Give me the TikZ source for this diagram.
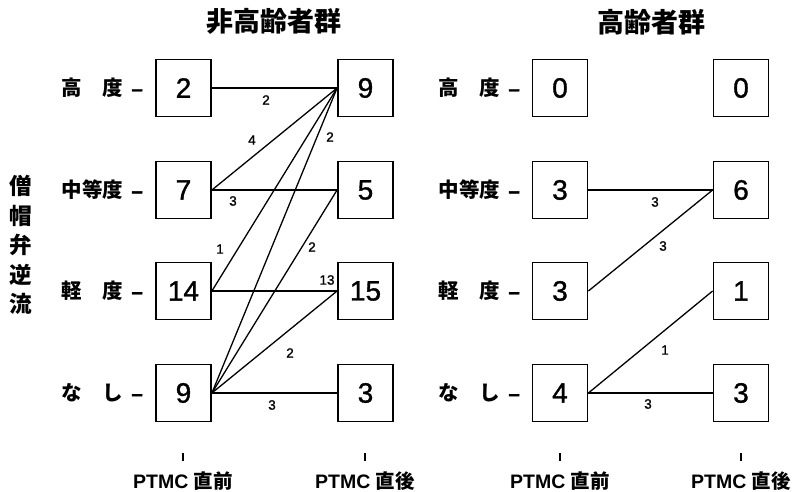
\documentclass[tikz,border=0pt]{standalone}
\usepackage{fontspec}
\setmainfont{Liberation Sans}
\newfontfamily\jp{Noto Sans CJK JP}
\newfontfamily\numf[FakeBold=1.2]{Liberation Sans}
\newfontfamily\dashf[FakeBold=2]{Liberation Sans Bold}
\begin{document}
\begin{tikzpicture}[x=1pt,y=-1pt,
  box/.style={draw, line width=1.8pt, minimum width=55pt, minimum height=57pt, inner sep=0pt, font=\numf\fontsize{28}{28}\selectfont},
  link/.style={line width=1.3pt},
  num/.style={font=\numf\fontsize{13.5}{13.5}\selectfont, inner sep=0pt},
  rowlab/.style={anchor=east, font=\jp\bfseries\fontsize{20.5}{20.5}\selectfont, inner sep=0pt},
  title/.style={font=\jp\bfseries\fontsize{27}{27}\selectfont, inner sep=0pt},
  axlab/.style={font=\bfseries\fontsize{19.5}{19.5}\selectfont, inner sep=0pt},
  tick/.style={line width=1.6pt}]
\useasboundingbox (0,0) rectangle (797,492);

% titles
\node[title] (t1) at (274,21) {非高齢者群};
\node[title] (t2) at (651,22) {高齢者群};

% vertical label
\node[font=\jp\bfseries\fontsize{22.5}{29.5}\selectfont, align=center, inner sep=0pt] (vl) at (21,245) {僧\\帽\\弁\\逆\\流};

% left group boxes
\node[box] (a1) at (183.5,88) {2};
\node[box] (a2) at (183.5,190) {7};
\node[box] (a3) at (183.5,291) {14};
\node[box] (a4) at (183.5,393) {9};
\node[box] (b1) at (365.5,88) {9};
\node[box] (b2) at (365.5,190) {5};
\node[box] (b3) at (365.5,291) {15};
\node[box] (b4) at (365.5,393) {3};

% right group boxes
\node[box] (c1) at (560,88) {0};
\node[box] (c2) at (560,190) {3};
\node[box] (c3) at (560,291) {3};
\node[box] (c4) at (560,393) {4};
\node[box] (d1) at (741,88) {0};
\node[box] (d2) at (741,190) {6};
\node[box] (d3) at (741,291) {1};
\node[box] (d4) at (741,393) {3};

% row labels
\newcommand{\rdash}{\hspace{8pt}{\dashf –}}
\node[rowlab] (ra1) at (143,88) {高　度\rdash};
\node[rowlab] (ra2) at (143,190) {中等度\rdash};
\node[rowlab] (ra3) at (143,291) {軽　度\rdash};
\node[rowlab] (ra4) at (143,393) {な　し\rdash};
\node[rowlab] (rc1) at (520,88) {高　度\rdash};
\node[rowlab] (rc2) at (520,190) {中等度\rdash};
\node[rowlab] (rc3) at (520,291) {軽　度\rdash};
\node[rowlab] (rc4) at (520,393) {な　し\rdash};

% left connectors
\draw[link] (a1.east) -- (b1.west);
\draw[link] (a2.east) -- (b1.west);
\draw[link] (a2.east) -- (b2.west);
\draw[link] (a3.east) -- (b1.west);
\draw[link] (a3.east) -- (b3.west);
\draw[link] (a4.east) -- (b1.west);
\draw[link] (a4.east) -- (b2.west);
\draw[link] (a4.east) -- (b3.west);
\draw[link] (a4.east) -- (b4.west);

% right connectors
\draw[link] (c2.east) -- (d2.west);
\draw[link] (c3.east) -- (d2.west);
\draw[link] (c4.east) -- (d3.west);
\draw[link] (c4.east) -- (d4.west);

% left edge labels
\node[num] (n1) at (266,100) {2};
\node[num] (n2) at (252,140) {4};
\node[num] (n3) at (233,201) {3};
\node[num] (n4) at (220,249) {1};
\node[num] (n5) at (330,137) {2};
\node[num] (n6) at (312,247) {2};
\node[num] (n7) at (327,280) {13};
\node[num] (n8) at (290,353) {2};
\node[num] (n9) at (272,405) {3};

% right edge labels
\node[num] (m1) at (655,202) {3};
\node[num] (m2) at (663,246) {3};
\node[num] (m3) at (665,350) {1};
\node[num] (m4) at (648,404) {3};

% bottom ticks and axis labels
\coordinate (k1a) at (183,453); \coordinate (k1b) at (183,461);
\coordinate (k2a) at (365,453); \coordinate (k2b) at (365,461);
\coordinate (k3a) at (560,453); \coordinate (k3b) at (560,461);
\coordinate (k4a) at (741,453); \coordinate (k4b) at (741,461);
\draw[tick] (k1a) -- (k1b);
\draw[tick] (k2a) -- (k2b);
\draw[tick] (k3a) -- (k3b);
\draw[tick] (k4a) -- (k4b);
\node[axlab] (x1) at (183,481) {PTMC {\jp\bfseries 直前}};
\node[axlab] (x2) at (365,481) {PTMC {\jp\bfseries 直後}};
\node[axlab] (x3) at (560,481) {PTMC {\jp\bfseries 直前}};
\node[axlab] (x4) at (741,481) {PTMC {\jp\bfseries 直後}};
\end{tikzpicture}
\end{document}
